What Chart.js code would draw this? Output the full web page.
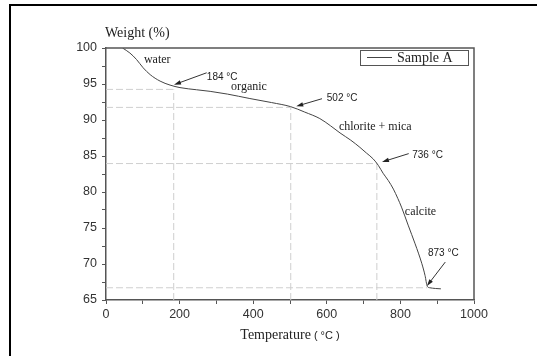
<!DOCTYPE html>
<html>
<head>
<meta charset="utf-8">
<title>TGA curve</title>
<script src="https://cdn.jsdelivr.net/npm/chart.js@4/dist/chart.umd.min.js"></script>
<style>
  html, body { margin: 0; padding: 0; background: #fff; overflow: hidden; }
  #wrap { position: relative; width: 537px; height: 356px; }
  #frame {
    position: absolute; left: 9px; top: 4px; width: 600px; height: 400px;
    border-top: 2px solid #000; border-left: 2px solid #000; pointer-events: none;
  }
  canvas { position: absolute; left: 0; top: 0; }
</style>
</head>
<body>
<div id="wrap">
  <canvas id="myChart" width="537" height="356"></canvas>
  <div id="frame"></div>
</div>
<script>
'use strict';

//***************** Data *****************
let temperatures = [45, 65, 83, 101, 120, 147, 174, 201, 246, 283, 330, 391, 450, 502, 540, 581, 610, 636, 665, 690, 708, 726, 740, 753, 767, 781, 793, 803, 821, 840, 858, 867, 873, 880, 895, 910];
let weights = [100, 99.3, 98.4, 97.25, 96.3, 95.4, 94.85, 94.5, 94.2, 93.98, 93.6, 92.98, 92.42, 91.85, 91.1, 90.2, 89.2, 88.2, 87.2, 86.2, 85.4, 84.6, 83.7, 82.6, 81.6, 80.4, 79.1, 77.9, 75.4, 72.8, 70.1, 68.4, 66.9, 66.7, 66.6, 66.55];

// event temperatures and the weight read there (dashed guides)
let guideTemps = [184, 502, 736, 873];
let guideWeights = [94.25, 91.75, 83.95, 66.7];

let xTickLabels = [0, 200, 400, 600, 800, 1000];
let yTickLabels = [65, 70, 75, 80, 85, 90, 95, 100];

let seriesName = 'Sample A';


//***************** Annotations (data coords) *****************
let notes = [
  { text: 'water', t: 103, w: 97.85, serif: true },
  { text: '184 °C', t: 274, w: 95.5 },
  { text: 'organic', t: 340, w: 94.1, serif: true },
  { text: '502 °C', t: 600, w: 92.6 },
  { text: 'chlorite + mica', t: 633, w: 88.66, serif: true },
  { text: '736 °C', t: 832, w: 84.78 },
  { text: 'calcite', t: 812, w: 76.74, serif: true },
  { text: '873 °C', t: 875, w: 71.1 }
];

let arrows = [
  { from: [273.6, 96.56], to: [184.8, 94.9] },
  { from: [587, 92.96], to: [517, 91.9] },
  { from: [822.6, 85.33], to: [750, 84.17] },
  { from: [922, 70.27], to: [872, 66.94] }
];

const SERIF = '"Liberation Serif", "Times New Roman", serif';
const SANS = '"Liberation Sans", Arial, sans-serif';


//***************** Datasets *****************
let curvePoints = temperatures.map((t, i) => ({ x: t, y: weights[i] }));

let guideSets = [];
for (let i = 0; i < guideTemps.length; i++) {
  guideSets.push({
    data: [{ x: 0, y: guideWeights[i] }, { x: guideTemps[i], y: guideWeights[i] }]
  });
  // the last event has no vertical guide
  if (i < guideTemps.length - 1) {
    guideSets.push({
      data: [{ x: guideTemps[i], y: 65 }, { x: guideTemps[i], y: guideWeights[i] }]
    });
  }
}
guideSets = guideSets.map(g => ({
  data: g.data,
  borderColor: '#cfcfcf',
  borderWidth: 1,
  borderDash: [7, 3],
  pointRadius: 0,
  order: 2
}));


//***************** Decoration plugin *****************
function drawArrow(c, x1, y1, x2, y2) {
  let ang = Math.atan2(y2 - y1, x2 - x1);
  let len = 7;
  c.beginPath();
  c.moveTo(x1, y1);
  c.lineTo(x2 - Math.cos(ang) * 4, y2 - Math.sin(ang) * 4);
  c.stroke();
  c.beginPath();
  c.moveTo(x2, y2);
  c.lineTo(x2 - len * Math.cos(ang) + 2.2 * Math.sin(ang), y2 - len * Math.sin(ang) - 2.2 * Math.cos(ang));
  c.lineTo(x2 - len * Math.cos(ang) - 2.2 * Math.sin(ang), y2 - len * Math.sin(ang) + 2.2 * Math.cos(ang));
  c.closePath();
  c.fill();
}

let decor = {
  id: 'decor',
  afterDraw(chart) {
    let c = chart.ctx;
    let a = chart.chartArea;
    let xs = chart.scales.x;
    let ys = chart.scales.y;
    c.save();

    // top and right sides of the plot box
    c.strokeStyle = '#555';
    c.lineWidth = 1.5;
    c.beginPath();
    c.moveTo(a.left, a.top);
    c.lineTo(a.right, a.top);
    c.lineTo(a.right, a.bottom);
    c.stroke();

    // annotation texts
    c.fillStyle = '#222';
    c.textBaseline = 'alphabetic';
    c.textAlign = 'left';
    notes.forEach(n => {
      c.font = n.serif ? '12px ' + SERIF : '10px ' + SANS;
      c.fillText(n.text, xs.getPixelForValue(n.t), ys.getPixelForValue(n.w));
    });

    // arrows
    c.strokeStyle = '#333';
    c.fillStyle = '#222';
    c.lineWidth = 1;
    arrows.forEach(ar => {
      drawArrow(c,
        xs.getPixelForValue(ar.from[0]), ys.getPixelForValue(ar.from[1]),
        xs.getPixelForValue(ar.to[0]), ys.getPixelForValue(ar.to[1]));
    });

    // legend
    c.strokeStyle = '#555';
    c.lineWidth = 1;
    c.strokeRect(360.5, 50.5, 108, 15);
    c.strokeStyle = '#444';
    c.beginPath();
    c.moveTo(367, 57.5);
    c.lineTo(392, 57.5);
    c.stroke();
    c.fillStyle = '#222';
    c.font = '14px ' + SERIF;
    c.fillText(seriesName, 397, 62);

    // axis titles
    c.fillStyle = '#222';
    c.font = '14px ' + SERIF;
    c.fillText('Weight (%)', 105, 37);

    let t1 = 'Temperature';
    let t2 = ' ( °C )';
    c.font = '14px ' + SERIF;
    let w1 = c.measureText(t1).width;
    c.font = '11px ' + SANS;
    let w2 = c.measureText(t2).width;
    let sx = (a.left + a.right) / 2 - (w1 + w2) / 2;
    c.font = '14px ' + SERIF;
    c.fillText(t1, sx, 339);
    c.font = '11px ' + SANS;
    c.fillText(t2, sx + w1, 339);

    c.restore();
  }
};


//***************** Chart *****************
let ctx = document.getElementById('myChart');

let myChartObj = {
  type: 'line',
  data: {
    datasets: [{
      label: seriesName,
      data: curvePoints,
      borderColor: '#444',
      borderWidth: 1,
      pointRadius: 0,
      cubicInterpolationMode: 'monotone',
      order: 1
    }].concat(guideSets)
  },
  options: {
    responsive: false,
    devicePixelRatio: 1,
    animation: false,
    layout: { padding: { left: 0, top: 48, right: 63, bottom: 0 } },
    plugins: {
      legend: { display: false },
      tooltip: { enabled: false }
    },
    scales: {
      x: {
        type: 'linear',
        min: 0,
        max: 1000,
        afterFit: s => { s.height = 56; },
        ticks: {
          stepSize: 100,
          autoSkip: false,
          maxRotation: 0,
          padding: 3,
          color: '#333',
          font: { family: SANS, size: 12.5 },
          callback: v => xTickLabels.includes(v) ? v : ''
        },
        grid: { drawOnChartArea: false, tickLength: 4, color: '#555', lineWidth: 1 },
        border: { display: true, color: '#555', width: 1.5 }
      },
      y: {
        min: 65,
        max: 100,
        afterFit: s => { s.width = 106; },
        ticks: {
          stepSize: 2.5,
          autoSkip: false,
          padding: 5,
          color: '#333',
          font: { family: SANS, size: 12.5 },
          callback: v => yTickLabels.includes(v) ? v : ''
        },
        grid: { drawOnChartArea: false, tickLength: 4, color: '#555', lineWidth: 1 },
        border: { display: true, color: '#555', width: 1.5 }
      }
    }
  },
  plugins: [decor]
};

new Chart(ctx, myChartObj);
</script>
</body>
</html>
